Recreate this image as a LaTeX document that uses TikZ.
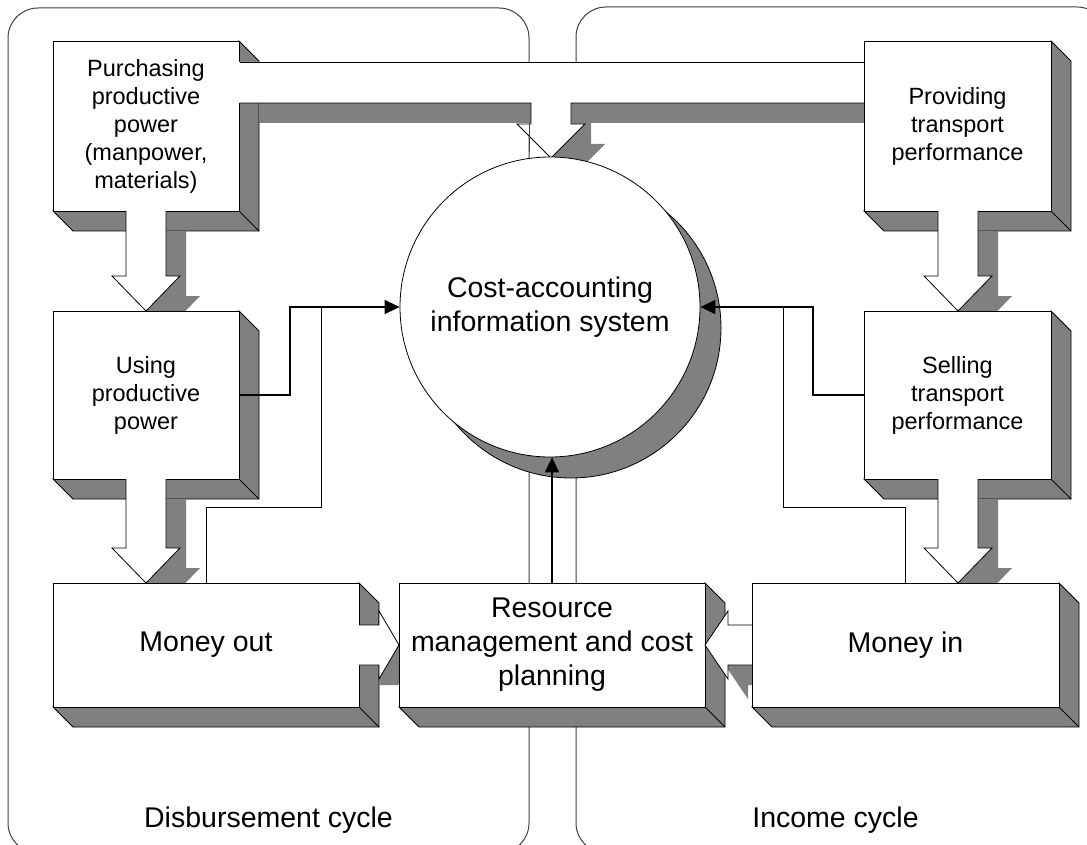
\documentclass[tikz,border=0pt]{standalone}
\usepackage{fontspec}
\setmainfont{Liberation Sans}
\usetikzlibrary{arrows.meta}
\definecolor{depthgray}{RGB}{128,128,128}
\tikzset{
  depthface/.style={fill=depthgray, draw=black, line width=0.9pt, line join=miter},
  frontface/.style={rectangle, fill=white, draw=black, line width=0.9pt, inner sep=0pt, outer sep=0pt, align=center},
  smalltext/.style={font=\fontsize{23.5}{28}\selectfont},
  bigtext/.style={font=\fontsize{28.5}{34}\selectfont},
  blockfill/.style={fill=white},
  blockedge/.style={draw=black, line width=0.8pt, line join=miter},
  shadowfill/.style={fill=depthgray},
  panel/.style={draw=black!75, line width=1pt, rounded corners=30pt},
  conn/.style={draw=black, line width=1.5pt},
  connthin/.style={draw=black, line width=1pt},
  tipend/.style={-{Triangle[length=15pt,width=14pt]}},
  cyclelabel/.style={font=\fontsize{28.5}{34}\selectfont, anchor=base, inner sep=0pt},
}
% name, x1, y1, x2, y2, text style, text
\newcommand{\cubebox}[7]{%
  \path[depthface] (#4,#3) -- ({#4+20},{#3+20}) -- ({#4+20},{#5+20}) -- ({#2+20},{#5+20}) -- (#2,#5) -- (#4,#5) -- cycle;
  \draw[line width=0.9pt] (#4,#5) -- ({#4+20},{#5+20});
  \node[frontface,#6,minimum width={#4-#2},minimum height={#5-#3}] (#1) at ({(#2+#4)/2},{(#3+#5)/2}) {#7};
}
% vertical block arrow: cx, y start, y tip
\newcommand{\downblock}[3]{%
  \begin{scope}[shift={(20,20)}]
    \fill[shadowfill] ({#1-20},#2) -- ({#1+20},#2) -- ({#1+20},{#3-35}) -- ({#1+34},{#3-35}) -- (#1,#3) -- ({#1-34},{#3-35}) -- ({#1-20},{#3-35}) -- cycle;
  \end{scope}
  \fill[blockfill] ({#1-20},#2) -- ({#1+20},#2) -- ({#1+20},{#3-35}) -- ({#1+34},{#3-35}) -- (#1,#3) -- ({#1-34},{#3-35}) -- ({#1-20},{#3-35}) -- cycle;
  \draw[blockedge] ({#1-20},#2) -- ({#1-20},{#3-35}) -- ({#1-34},{#3-35}) -- (#1,#3) -- ({#1+34},{#3-35}) -- ({#1+20},{#3-35}) -- ({#1+20},#2);
}
% horizontal block arrow: x start, x head back, x tip, cy
\newcommand{\sideblock}[4]{%
  \begin{scope}[shift={(20,20)}]
    \fill[shadowfill] (#1,{#4-20}) -- (#2,{#4-20}) -- (#2,{#4-34}) -- (#3,#4) -- (#2,{#4+34}) -- (#2,{#4+20}) -- (#1,{#4+20}) -- cycle;
  \end{scope}
  \fill[blockfill] (#1,{#4-20}) -- (#2,{#4-20}) -- (#2,{#4-34}) -- (#3,#4) -- (#2,{#4+34}) -- (#2,{#4+20}) -- (#1,{#4+20}) -- cycle;
  \draw[blockedge] (#1,{#4-20}) -- (#2,{#4-20}) -- (#2,{#4-34}) -- (#3,#4) -- (#2,{#4+34}) -- (#2,{#4+20}) -- (#1,{#4+20});
}
\begin{document}
\begin{tikzpicture}[x=1pt,y=-1pt]
\useasboundingbox (0,0) rectangle (1087,845);
\fill[white] (0,0) rectangle (1087,845);
% panels
\begin{scope}
  \clip (0,0) rectangle (1087,845);
  \draw[panel] (8,8) rectangle (529,853);
  \draw[panel] (576,7) rectangle (1107,853);
\end{scope}
% top boxes and joining arrow
\cubebox{pp}{53}{41}{239}{211}{smalltext}{Purchasing\\productive\\power\\(manpower,\\materials)}
\begin{scope}[shift={(20,20)}]
  \fill[shadowfill] (239,62) -- (864,62) -- (864,103) -- (571,103) -- (571,124) -- (585,124) -- (551,158) -- (517,124) -- (531,124) -- (531,103) -- (239,103) -- cycle;
\end{scope}
\fill[blockfill] (239,62) -- (864,62) -- (864,103) -- (571,103) -- (571,124) -- (585,124) -- (551,158) -- (517,124) -- (531,124) -- (531,103) -- (239,103) -- cycle;
\draw[blockedge] (239.5,62) -- (864,62);
\draw[blockedge] (239.5,103) -- (531,103) -- (531,124) -- (517,124) -- (551,158) -- (585,124) -- (571,124) -- (571,103) -- (864,103);
\cubebox{ptp}{864}{41}{1051}{211}{smalltext}{Providing\\transport\\performance}
\draw[draw=black!75, line width=1pt] (529,124) -- (529,152);
% central circle
\fill[depthgray, draw=black, line width=0.8pt] (571,328) circle[radius=150];
\node[circle, fill=white, draw=black, line width=0.8pt, minimum size=300pt, inner sep=0pt, align=center, bigtext] (cis) at (550,307) {Cost-accounting\\information system};
% left column
\downblock{146}{211}{311}
\cubebox{upp}{53}{311}{239}{479}{smalltext}{Using\\productive\\power}
\downblock{146}{479}{583}
\cubebox{mout}{53}{583}{359}{707}{bigtext}{Money out}
\sideblock{359}{379}{399}{645}
\cubebox{rm}{399}{583}{705}{707}{bigtext}{Resource\\management and cost\\planning}
\sideblock{752}{728}{705}{645}
% right column
\downblock{958}{211}{311}
\cubebox{stp}{864}{311}{1051}{479}{smalltext}{Selling\\transport\\performance}
\downblock{958}{479}{583}
\cubebox{min}{752}{583}{1059}{707}{bigtext}{Money in}
% connectors
\coordinate (jl) at (321,307);
\coordinate (jr) at (783,307);
\draw[conn,tipend] (upp.east) -- (290,395) |- (cis.west);
\draw[connthin] (mout.north) |- (321,507) -- (jl);
\draw[conn,tipend] (stp.west) -- (813,395) |- (cis.east);
\draw[connthin] (min.north) |- (783,507) -- (jr);
\draw[conn,tipend] (rm.north) -- (rm.north |- cis.south);
% cycle labels
\node[cyclelabel] (dc) at (268.5,827) {Disbursement cycle};
\node[cyclelabel] (ic) at (835.5,827) {Income cycle};
\end{tikzpicture}
\end{document}
